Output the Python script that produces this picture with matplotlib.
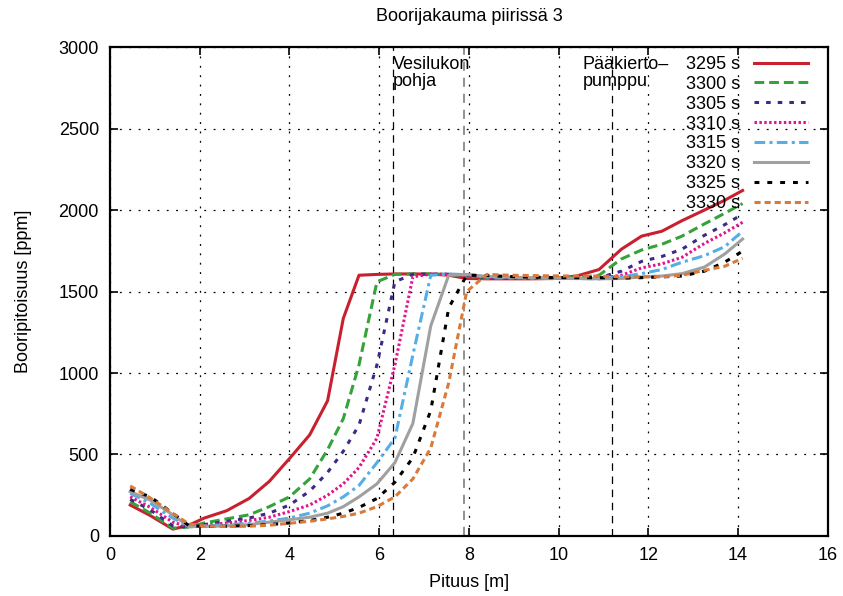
import matplotlib
matplotlib.use("Agg")
import matplotlib.pyplot as plt
from matplotlib.ticker import MultipleLocator

plt.rcParams['font.family'] = ['Liberation Sans', 'DejaVu Sans']

# Axial positions of the calculation nodes [m]
pituus = [0.45, 0.9, 1.4, 1.75, 2.1, 2.6, 3.1, 3.55, 4.0,
          4.45, 4.85, 5.2, 5.55, 5.95, 6.35, 6.75, 7.15, 7.55,
          7.95, 8.4, 8.9, 9.4, 9.9,
          10.4, 10.9, 11.4, 11.85, 12.3, 12.75, 13.25, 13.7, 14.1]

# Boron concentration [ppm] at each time instant
b_3295 = [190, 125, 42, 65, 110, 155, 230, 335, 475,
          620, 830, 1335, 1600, 1605, 1608, 1608, 1607, 1600,
          1580, 1578, 1578, 1578, 1580,
          1595, 1635, 1760, 1840, 1870, 1935, 2000, 2060, 2120]
b_3300 = [210, 140, 48, 55, 80, 105, 130, 180, 240,
          350, 530, 720, 1050, 1560, 1605, 1608, 1608, 1605,
          1595, 1580, 1580, 1580, 1580,
          1585, 1600, 1700, 1755, 1790, 1840, 1915, 1980, 2040]
b_3305 = [225, 160, 62, 55, 70, 90, 110, 140, 190,
          275, 390, 520, 680, 1050, 1560, 1606, 1607, 1606,
          1600, 1585, 1582, 1580, 1580,
          1580, 1585, 1625, 1685, 1715, 1760, 1845, 1910, 1975]
b_3310 = [241, 175, 85, 55, 65, 80, 95, 115, 150,
          190, 250, 320, 420, 600, 1050, 1590, 1607, 1606,
          1602, 1588, 1584, 1582, 1580,
          1580, 1580, 1600, 1645, 1670, 1710, 1795, 1860, 1925]
b_3315 = [262, 200, 110, 60, 62, 68, 78, 92, 110,
          140, 185, 240, 310, 450, 600, 1110, 1600, 1607,
          1604, 1590, 1586, 1583, 1581,
          1580, 1578, 1590, 1610, 1635, 1680, 1720, 1775, 1870]
b_3320 = [272, 220, 130, 58, 58, 62, 70, 85, 100,
          115, 140, 180, 240, 320, 450, 690, 1290, 1600,
          1605, 1592, 1588, 1585, 1582,
          1580, 1578, 1580, 1590, 1595, 1610, 1650, 1730, 1822]
b_3325 = [286, 240, 140, 65, 58, 60, 64, 70, 80,
          95, 115, 140, 175, 230, 330, 480, 770, 1400,
          1600, 1598, 1592, 1588, 1586,
          1585, 1585, 1582, 1585, 1590, 1595, 1625, 1680, 1748]
b_3330 = [307, 233, 139, 75, 60, 58, 60, 66, 78,
          90, 105, 120, 140, 180, 240, 350, 540, 940,
          1500, 1605, 1600, 1598, 1596,
          1595, 1595, 1590, 1590, 1590, 1600, 1630, 1655, 1704]

labels = ["3295 s", "3300 s", "3305 s", "3310 s",
          "3315 s", "3320 s", "3325 s", "3330 s"]
series = [b_3295, b_3300, b_3305, b_3310, b_3315, b_3320, b_3325, b_3330]

colors = ["#c8202f", "#36a33a", "#3b2a86", "#e0148c",
          "#55aee8", "#a0a0a0", "#000000", "#d97a3a"]
styles = ["-", (0, (3.2, 1.6)), (0, (1.5, 2.3)), (0, (0.8, 0.8)),
          (0, (3.5, 1.4, 1.0, 1.4)), "-", (0, (1.6, 2.6)), (0, (2.0, 1.3))]

# Component locations along the loop [m]
vesilukko = [6.3, 7.9]
pumppu = 11.2

FS = 13

fig = plt.figure(figsize=(8.43, 5.96), dpi=100)
ax = fig.add_axes([0.1305, 0.1007, 0.8515, 0.8203])

for y, lab, c, ls in zip(series, labels, colors, styles):
    ax.plot(pituus, y, color=c, linestyle=ls, linewidth=2.2, label=lab,
            zorder=3)

ax.axvline(vesilukko[0], color="black", linestyle=(0, (6, 4.5)), linewidth=0.9, zorder=2)
ax.axvline(vesilukko[1], color="0.45", linestyle=(0, (6, 4.5)), linewidth=1.1, zorder=2)
ax.axvline(pumppu, color="black", linestyle=(0, (6, 4.5)), linewidth=0.9, zorder=2)

ax.text(vesilukko[0], 2945, "Vesilukon\npohja", fontsize=FS,
        ha="left", va="top", linespacing=1.0)
ax.text(10.53, 2945, "Pääkierto–\npumppu", fontsize=FS,
        ha="left", va="top", linespacing=1.0)

ax.set_xlim(0, 16)
ax.set_ylim(0, 3000)
ax.xaxis.set_major_locator(MultipleLocator(2))
ax.yaxis.set_major_locator(MultipleLocator(500))
ax.grid(True, color="black", linestyle=(0, (1.5, 6)), linewidth=0.9)
ax.tick_params(direction="in", length=6, width=1.2, top=True, right=True,
               labelsize=FS, pad=8)
for s in ax.spines.values():
    s.set_linewidth(1.6)

ax.set_title("Boorijakauma piirissä 3", fontsize=FS, pad=19)
ax.set_xlabel("Pituus [m]", fontsize=FS, labelpad=7)
ax.set_ylabel("Booripitoisuus [ppm]", fontsize=FS, labelpad=19)

ax.legend(loc="upper right", bbox_to_anchor=(0.972, 0.982), frameon=False,
          markerfirst=False, fontsize=FS, handlelength=2.95,
          handletextpad=0.78, labelspacing=0.16, borderpad=0, borderaxespad=0)

fig.savefig("out.png", dpi=100)
